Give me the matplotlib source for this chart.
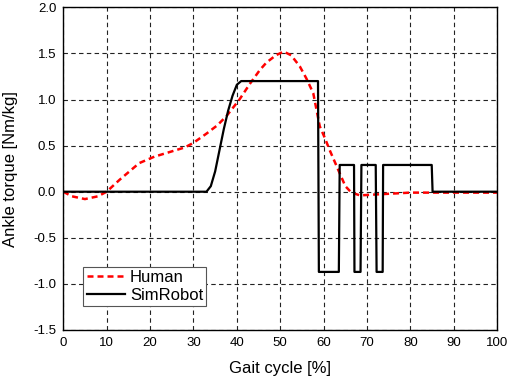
import matplotlib
matplotlib.use("Agg")
import matplotlib.pyplot as plt

plt.rcParams['font.family'] = ['Liberation Sans', 'DejaVu Sans']

# Human ankle torque
human_x = [0, 2, 5, 8, 10, 13, 17.5, 21, 24.5, 28, 30, 33, 35.5, 37.6, 40.6, 43, 45.3, 46.8,
           49, 50.8, 52.5, 54.5, 56, 57.6, 59.1, 60.3, 61.4, 63.7, 65, 66.4, 68.4, 72, 76,
           80, 83.6, 90, 100]
human_y = [0.0, -0.05, -0.08, -0.05, 0.0, 0.13, 0.31, 0.38, 0.43, 0.48, 0.53, 0.63, 0.72, 0.82,
           1.0, 1.17, 1.32, 1.40, 1.48, 1.52, 1.48, 1.36, 1.23, 1.07, 0.71, 0.58, 0.45, 0.20,
           0.06, -0.01, -0.04, -0.03, -0.02, -0.01, -0.01, -0.01, -0.01]

# Simulated robot ankle torque
robot_x = [0, 33, 34, 35, 36, 37, 38, 39, 40, 41, 58.7, 58.9, 63.5, 63.7, 67.0, 67.1, 68.5,
           68.7, 72.0, 72.2, 73.6, 73.7, 84.9, 85.1, 100]
robot_y = [0.0, 0.0, 0.06, 0.22, 0.45, 0.68, 0.88, 1.04, 1.16, 1.2, 1.2, -0.87, -0.87,
           0.29, 0.29, -0.87, -0.87, 0.29, 0.29, -0.87, -0.87, 0.29, 0.29, 0.0, 0.0]

fig = plt.figure(figsize=(5.1, 3.79), dpi=100)
ax = fig.add_axes([0.124, 0.1293, 0.851, 0.8514])

ax.plot(human_x, human_y, color='red', linestyle='--', linewidth=1.8, dashes=(2.4, 1.6), label='Human')
ax.plot(robot_x, robot_y, color='black', linewidth=1.6, label='SimRobot')

ax.set_xlim(0, 100)
ax.set_ylim(-1.5, 2.0)
ax.set_xticks(range(0, 101, 10))
ax.set_yticks([-1.5, -1.0, -0.5, 0.0, 0.5, 1.0, 1.5, 2.0])
ax.set_yticklabels(['-1.5', '-1.0', '-0.5', '0.0', '0.5', '1.0', '1.5', '2.0'])
ax.grid(True, color='#222222', linestyle='--', linewidth=0.8, dashes=(4, 3))
ax.tick_params(direction='in', length=0, labelsize=9.5, pad=5)
for s in ax.spines.values():
    s.set_linewidth(1.0)

ax.set_xlabel('Gait cycle [%]', fontsize=12, labelpad=9)
ax.set_ylabel('Ankle torque [Nm/kg]', fontsize=12, labelpad=11)

leg = ax.legend(loc='lower left', bbox_to_anchor=(0.046, 0.074), fontsize=12, fancybox=False,
                edgecolor='#555555', framealpha=1, handlelength=2.3, borderpad=0.2,
                labelspacing=0.15, handletextpad=0.3, borderaxespad=0)
leg.get_frame().set_linewidth(0.8)

fig.savefig('out.png', dpi=100)
